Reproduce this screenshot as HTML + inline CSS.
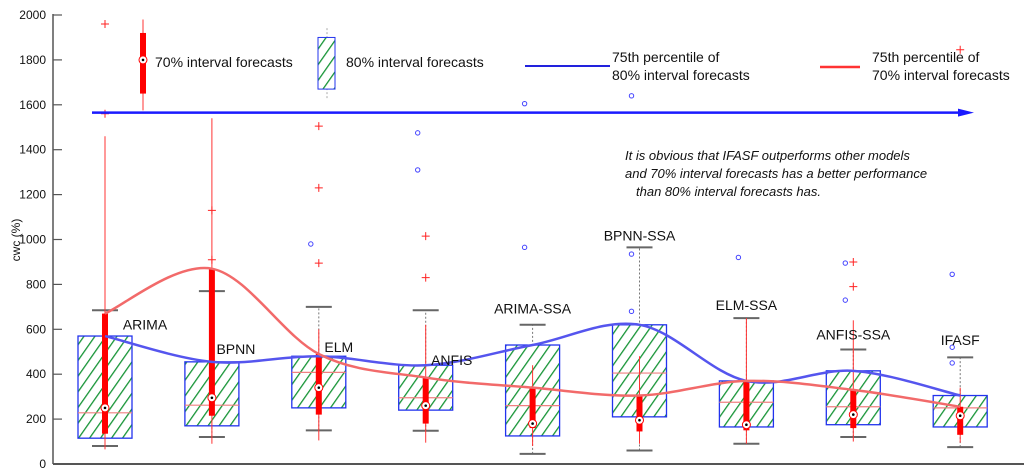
<!DOCTYPE html>
<html><head><meta charset="utf-8"><style>
body{margin:0;background:#fff;}
svg{display:block;font-family:"Liberation Sans",Arial,sans-serif;}
</style></head><body>
<svg id="c" width="1024" height="472" viewBox="0 0 1024 472">
<defs>
<pattern id="hatch" patternUnits="userSpaceOnUse" width="9" height="9" patternTransform="rotate(35)">
<rect width="9" height="9" fill="#fff"/>
<line x1="0" y1="0" x2="0" y2="9" stroke="#169436" stroke-width="2.6"/>
</pattern>
</defs>
</svg>
<script>
const models=["ARIMA","BPNN","ELM","ANFIS","ARIMA-SSA","BPNN-SSA","ELM-SSA","ANFIS-SSA","IFASF"];
// 80% interval forecasts
const g80Q1=[115,170,250,240,125,210,165,175,165];
const g80Q3=[570,455,480,440,530,620,370,415,305];
const g80Med=[228,262,408,295,260,405,275,255,250];
const g80Lo=[80,120,150,148,45,60,90,120,75];
const g80Hi=[685,770,700,685,620,965,650,510,475];
// 70% interval forecasts
const r70Q1=[135,215,220,180,160,145,150,160,130];
const r70Q3=[670,870,490,385,340,305,370,330,255];
const r70Med=[250,295,340,260,180,195,175,220,215];
const r70Lo=[65,90,105,95,80,90,90,100,95];
const r70Hi=[1460,1540,600,620,440,480,650,640,340];
const redOutliers=[[0,1960],[0,1560],[1,1130],[1,910],[2,1505],[2,1230],[2,895],[3,1015],[3,830],[7,900],[7,790],[8,1845]];
const blueOutliers=[[2,980],[3,1475],[3,1310],[4,1605],[4,965],[5,1640],[5,935],[5,680],[6,920],[7,895],[7,730],[8,845],[8,450],[8,520]];
const yTicks=[0,200,400,600,800,1000,1200,1400,1600,1800,2000];
const labelY=[600,490,500,440,635,960,650,520,495];

const svg=document.getElementById('c');
const NS='http://www.w3.org/2000/svg';
const y=v=>464-v*0.2245;
const x=i=>105+i*106.9;
function mk(t,a,p){const e=document.createElementNS(NS,t);for(const k in a)e.setAttribute(k,a[k]);(p||svg).appendChild(e);return e;}

// axes
let e=mk('line',{x1:53,y1:14,x2:53,y2:464,stroke:'#555','stroke-width':1.5});


e=mk('line',{x1:53,y1:464,x2:1024,y2:464,stroke:'#555','stroke-width':2});


yTicks.forEach(t=>{
 let l=mk('line',{x1:53,y1:y(t),x2:62,y2:y(t),stroke:'#555','stroke-width':1.2});
 
 
 let s=mk('text',{x:46,y:y(t)+4,'text-anchor':'end','font-size':12,fill:'#111'});
 s.textContent=t;
 
 
});
e=mk('text',{x:20,y:240,'font-size':12,'text-anchor':'middle',transform:'rotate(-90 20 240)',fill:'#111'});
e.textContent='cwc (%)';



// green boxes
models.forEach((m,i)=>{
 const cx=x(i),w=54;
 let wl=mk('line',{x1:cx,y1:y(g80Lo[i]),x2:cx,y2:y(g80Hi[i]),stroke:'#777','stroke-dasharray':'2,2'});
 
 
 [g80Lo[i],g80Hi[i]].forEach(v=>{
  let c=mk('line',{x1:cx-13,y1:y(v),x2:cx+13,y2:y(v),stroke:'#666','stroke-width':2});
  
  
 });
 let b=mk('rect',{x:cx-w/2,y:y(g80Q3[i]),width:w,height:y(g80Q1[i])-y(g80Q3[i]),fill:'url(#hatch)',stroke:'#2233ee','stroke-width':1.3});
 
 
 let md=mk('line',{x1:cx-w/2,y1:y(g80Med[i]),x2:cx+w/2,y2:y(g80Med[i]),stroke:'#f08080','stroke-width':1.2});
 
 
});
// red boxes
models.forEach((m,i)=>{
 const cx=x(i);
 let wl=mk('line',{x1:cx,y1:y(r70Lo[i]),x2:cx,y2:y(r70Hi[i]),stroke:'#f33','stroke-width':1});
 
 
 let b=mk('rect',{x:cx-3,y:y(r70Q3[i]),width:6,height:y(r70Q1[i])-y(r70Q3[i]),fill:'#f00'});
 
 
 let c=mk('circle',{cx:cx,cy:y(r70Med[i]),r:4,fill:'#fff',stroke:'#f00','stroke-width':1});
 
 
 let d=mk('circle',{cx:cx,cy:y(r70Med[i]),r:1.3,fill:'#000'});
 
 
});
// outliers
redOutliers.forEach(([i,v])=>{
 let p=mk('path',{d:`M${x(i)-4} ${y(v)}h8M${x(i)} ${y(v)-4}v8`,stroke:'#f22','stroke-width':1});
 
 
});
blueOutliers.forEach(([i,v])=>{
 let p=mk('circle',{cx:x(i)-8,cy:y(v),r:2.2,fill:'none',stroke:'#44f','stroke-width':1});
 
 
});
// smooth curves
function spline(arr){
 const P=arr.map((v,i)=>[x(i),y(v)]);let d=`M${P[0][0]} ${P[0][1]}`;
 for(let i=0;i<P.length-1;i++){const p0=P[Math.max(0,i-1)],p1=P[i],p2=P[i+1],p3=P[Math.min(P.length-1,i+2)];
  d+=` C${p1[0]+(p2[0]-p0[0])/6} ${p1[1]+(p2[1]-p0[1])/6} ${p2[0]-(p3[0]-p1[0])/6} ${p2[1]-(p3[1]-p1[1])/6} ${p2[0]} ${p2[1]}`;}
 return d;}
e=mk('path',{d:spline(g80Q3),fill:'none',stroke:'#5555ee','stroke-width':2.5});


e=mk('path',{d:spline(r70Q3),fill:'none',stroke:'#f26a6a','stroke-width':2.5});


// model labels
models.forEach((m,i)=>{
 let t=mk('text',{x:x(i)+(i<4?[40,24,20,26][i]:0),y:y(labelY[i])-(i<4?0:8),'text-anchor':i<4?'middle':'middle','font-size':14,fill:'#111'});
 t.textContent=m;
 
 
});
// arrow
e=mk('path',{d:`M92 ${y(1565)}H962`,stroke:'#1a1aff','stroke-width':2.5});


e=mk('path',{d:`M958 ${y(1565)-4}L974 ${y(1565)}L958 ${y(1565)+4}Z`,fill:'#1a1aff'});


// legend
const lg=mk('g',{});


mk('line',{x1:143,y1:y(1575),x2:143,y2:y(1980),stroke:'#f33'},lg);
mk('rect',{x:140,y:y(1920),width:6,height:y(1650)-y(1920),fill:'#f00'},lg);
mk('circle',{cx:143,cy:y(1800),r:4,fill:'#fff',stroke:'#f00'},lg);
mk('circle',{cx:143,cy:y(1800),r:1.3,fill:'#000'},lg);
e=mk('text',{x:155,y:67,'font-size':14,fill:'#111'},lg);e.textContent='70% interval forecasts';
mk('line',{x1:327,y1:y(1630),x2:327,y2:y(1945),stroke:'#aaa','stroke-dasharray':'2,2'},lg);
mk('rect',{x:318,y:y(1900),width:17,height:y(1670)-y(1900),fill:'url(#hatch)',stroke:'#2233ee'},lg);
e=mk('text',{x:346,y:67,'font-size':14,fill:'#111'},lg);e.textContent='80% interval forecasts';
mk('line',{x1:525,y1:66,x2:610,y2:66,stroke:'#2222dd','stroke-width':2},lg);
e=mk('text',{x:612,y:62,'font-size':14,fill:'#111'},lg);e.textContent='75th percentile of';
e=mk('text',{x:612,y:80,'font-size':14,fill:'#111'},lg);e.textContent='80% interval forecasts';
mk('line',{x1:820,y1:67,x2:860,y2:67,stroke:'#f33','stroke-width':2.5},lg);
e=mk('text',{x:872,y:62,'font-size':14,fill:'#111'},lg);e.textContent='75th percentile of';
e=mk('text',{x:872,y:80,'font-size':14,fill:'#111'},lg);e.textContent='70% interval forecasts';
// annotation
['It is obvious that IFASF outperforms other models','and 70% interval forecasts has a better performance','than 80% interval forecasts has.'].forEach((s,k)=>{
 let t=mk('text',{x:[625,625,636][k],y:160+k*18,'font-size':13,'font-style':'italic',fill:'#111'});
 t.textContent=s;
 
 
});
</script>
</body></html>
